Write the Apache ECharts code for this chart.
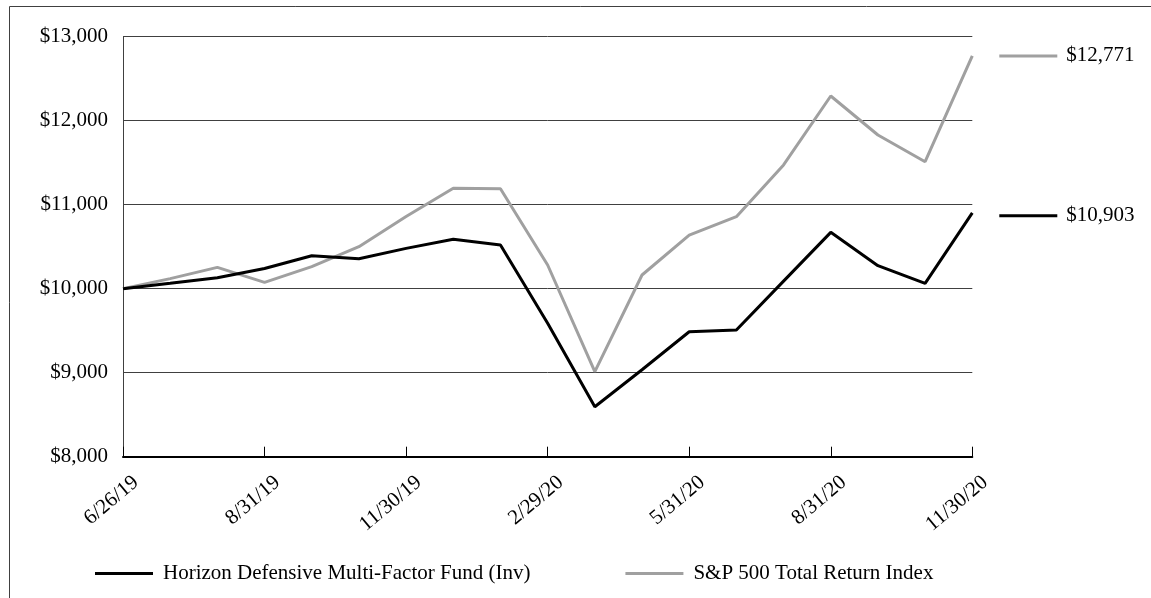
<!DOCTYPE html>
<html>
<head>
<meta charset="utf-8">
<script src="https://cdn.jsdelivr.net/npm/echarts@6/dist/echarts.min.js"></script>
<style>
  html, body { margin: 0; padding: 0; background: #fff; }
</style>
</head>
<body>
<div id="growth" style="width: 1151px; height: 598px"></div>
<script>
// dates along the x axis (month ends after inception)
const dates = [
  '6/26/19', '6/30/19', '7/31/19', '8/31/19', '9/30/19', '10/31/19', '11/30/19',
  '12/31/19', '1/31/20', '2/29/20', '3/31/20', '4/30/20', '5/31/20', '6/30/20',
  '7/31/20', '8/31/20', '9/30/20', '10/31/20', '11/30/20'
];
// growth of $10,000
const fundValues = [
  10000, 10064, 10131, 10240, 10393, 10357, 10480, 10588, 10520, 9588,
  8595, 9035, 9488, 9508, 10090, 10671, 10274, 10064, 10903
];
const indexValues = [
  10000, 10120, 10254, 10076, 10262, 10500, 10860, 11195, 11190, 10282,
  9012, 10163, 10639, 10857, 11473, 12294, 11830, 11512, 12771
];
const fundName = 'Horizon Defensive Multi-Factor Fund (Inv)';
const indexName = 'S&P 500 Total Return Index';

const FONT = 'Liberation Serif';
const GRAY = '#a0a0a0';

function dollars(v) {
  return '$' + v.toLocaleString('en-US');
}

const chart = echarts.init(document.getElementById('growth'));

// line sample + final value to the right of each series
function endLabel(color, dy) {
  return {
    show: true,
    distance: 27,
    offset: [0, dy],
    formatter: p => '{line|}{val|' + dollars(p.value) + '}',
    rich: {
      line: { width: 58, height: 3, backgroundColor: color },
      val: { fontFamily: FONT, fontSize: 21, color: '#000', padding: [0, 0, 0, 9] }
    }
  };
}

chart.setOption({
  animation: false,
  graphic: [{
    type: 'rect',
    shape: { x: 9.5, y: 6.5, width: 1300, height: 800 },
    style: { fill: 'none', stroke: '#404040', lineWidth: 1 },
    silent: true
  }],
  legend: {
    left: 90,
    top: 558,
    itemWidth: 58,
    itemHeight: 3,
    itemGap: 95,
    icon: 'rect',
    textStyle: { fontFamily: FONT, fontSize: 21, color: '#000', padding: [0, 0, 0, 5] },
    data: [fundName, indexName]
  },
  grid: [
    { left: 123, top: 36.7, right: 178.7, bottom: 141.3, outerBoundsMode: 'none' },
    // second grid only carries the date labels, nudged right like the original
    { left: 136, top: 36.7, right: 165.7, bottom: 141.3, outerBoundsMode: 'none' }
  ],
  xAxis: [
    {
      type: 'category',
      data: dates,
      boundaryGap: false,
      axisLine: { lineStyle: { color: '#000', width: 2 } },
      axisTick: { interval: 2, inside: true, length: 10, lineStyle: { color: '#000', width: 1 } },
      axisLabel: { show: false }
    },
    {
      type: 'category',
      gridIndex: 1,
      data: dates,
      boundaryGap: false,
      axisLine: { show: false },
      axisTick: { show: false },
      axisLabel: {
        interval: 2,
        rotate: 40,
        margin: 23,
        fontFamily: FONT,
        fontSize: 21,
        color: '#000'
      }
    }
  ],
  yAxis: [
    {
      type: 'value',
      min: 8000,
      max: 13000,
      interval: 1000,
      axisLine: { show: true, lineStyle: { color: '#404040', width: 1 } },
      axisTick: { show: false },
      splitLine: { lineStyle: { color: '#404040', width: 1 } },
      axisLabel: {
        margin: 15,
        fontFamily: FONT,
        fontSize: 21,
        color: '#000',
        formatter: v => dollars(v)
      }
    },
    { type: 'value', gridIndex: 1, show: false, min: 8000, max: 13000 }
  ],
  series: [
    {
      name: fundName,
      type: 'line',
      data: fundValues,
      color: '#000',
      symbol: 'none',
      lineStyle: { width: 3, color: '#000' },
      endLabel: endLabel('#000', 3),
      z: 3
    },
    {
      name: indexName,
      type: 'line',
      data: indexValues,
      color: GRAY,
      symbol: 'none',
      lineStyle: { width: 3, color: GRAY },
      endLabel: endLabel(GRAY, 0),
      z: 2
    }
  ]
});
</script>
</body>
</html>
